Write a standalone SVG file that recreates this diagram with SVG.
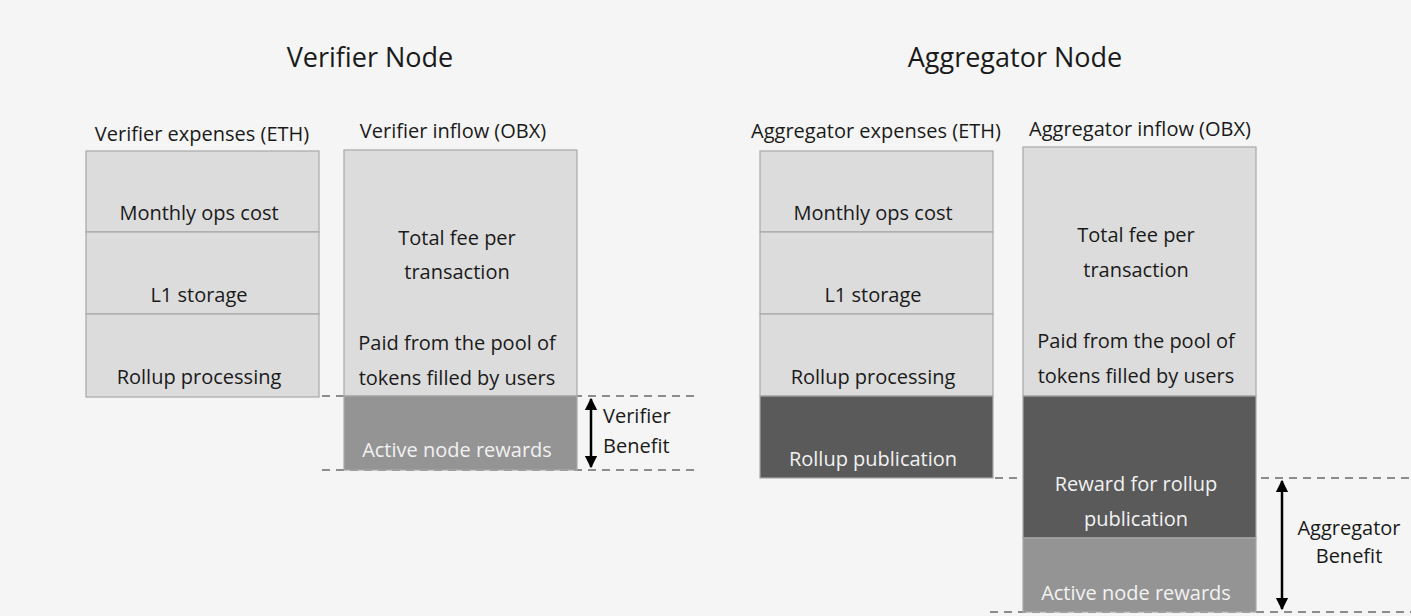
<svg xmlns="http://www.w3.org/2000/svg" width="1411" height="616" viewBox="0 0 1411 616">
<defs>
<marker id="ah" viewBox="0 0 10 10" refX="9" refY="5" markerWidth="5" markerHeight="5.5" orient="auto-start-reverse"><path d="M0,0 L10,5 L0,10 z" fill="#000"/></marker>
<style>
text{font-family:"Open Sans","Liberation Sans",sans-serif;text-anchor:middle;fill:#1a1a1a}
.title{font-size:27px}
.hdr{font-size:20px}
.lbl{font-size:20px}
.w{fill:#f2f2f2}
.light{fill:#dcdcdc;stroke:#a8a8a8;stroke-width:1.2}
.mid{fill:#949494;stroke:#a8a8a8;stroke-width:1.2}
.dark{fill:#5a5a5a;stroke:#a8a8a8;stroke-width:1.2}
.dash{stroke:#8c8c8c;stroke-width:2;stroke-dasharray:8,6;fill:none}
.arr{stroke:#000;stroke-width:2.5;fill:none}
</style>
</defs>
<rect width="1411" height="616" fill="#f5f5f5"/>
<text class="title" x="370" y="67">Verifier Node</text>
<text class="title" x="1015" y="67">Aggregator Node</text>

<g id="connectors">
<line class="dash" x1="322" y1="396" x2="695" y2="396"/>
<line class="dash" x1="322" y1="470" x2="695" y2="470"/>
<line class="arr" x1="591" y1="399" x2="591" y2="467" marker-start="url(#ah)" marker-end="url(#ah)"/>
<line class="dash" x1="995" y1="478" x2="1411" y2="478"/>
<line class="dash" x1="990" y1="612" x2="1411" y2="612"/>
<line class="arr" x1="1282" y1="481" x2="1282" y2="609" marker-start="url(#ah)" marker-end="url(#ah)"/>
</g>

<g id="verifier-expenses">
<text class="hdr" x="202" y="141">Verifier expenses (ETH)</text>
<rect class="light" x="86" y="151" width="233" height="81"/>
<rect class="light" x="86" y="232" width="233" height="82"/>
<rect class="light" x="86" y="314" width="233" height="83"/>
<text class="lbl" x="199" y="220">Monthly ops cost</text>
<text class="lbl" x="199" y="302">L1 storage</text>
<text class="lbl" x="199" y="384">Rollup processing</text>
</g>

<g id="verifier-inflow">
<text class="hdr" x="453" y="138">Verifier inflow (OBX)</text>
<rect class="light" x="344" y="150" width="233" height="246"/>
<rect class="mid" x="344" y="396" width="233" height="74"/>
<text class="lbl" x="457" y="245">Total fee per</text>
<text class="lbl" x="457" y="279">transaction</text>
<text class="lbl" x="457" y="350">Paid from the pool of</text>
<text class="lbl" x="457" y="385">tokens filled by users</text>
<text class="lbl w" x="457" y="457">Active node rewards</text>
</g>

<g id="verifier-benefit">
<text class="lbl" x="603" y="423" style="text-anchor:start">Verifier</text>
<text class="lbl" x="603" y="453" style="text-anchor:start">Benefit</text>
</g>

<g id="aggregator-expenses">
<text class="hdr" x="876" y="138">Aggregator expenses (ETH)</text>
<rect class="light" x="760" y="151" width="233" height="81"/>
<rect class="light" x="760" y="232" width="233" height="82"/>
<rect class="light" x="760" y="314" width="233" height="82"/>
<rect class="dark" x="760" y="396" width="233" height="82"/>
<text class="lbl" x="873" y="220">Monthly ops cost</text>
<text class="lbl" x="873" y="302">L1 storage</text>
<text class="lbl" x="873" y="384">Rollup processing</text>
<text class="lbl w" x="873" y="466">Rollup publication</text>
</g>

<g id="aggregator-inflow">
<text class="hdr" x="1140" y="136">Aggregator inflow (OBX)</text>
<rect class="light" x="1023" y="147" width="233" height="249"/>
<rect class="dark" x="1023" y="396" width="233" height="142"/>
<rect class="mid" x="1023" y="538" width="233" height="74"/>
<text class="lbl" x="1136" y="242">Total fee per</text>
<text class="lbl" x="1136" y="277">transaction</text>
<text class="lbl" x="1136" y="348">Paid from the pool of</text>
<text class="lbl" x="1136" y="383">tokens filled by users</text>
<text class="lbl w" x="1136" y="491">Reward for rollup</text>
<text class="lbl w" x="1136" y="526">publication</text>
<text class="lbl w" x="1136" y="600">Active node rewards</text>
</g>

<g id="aggregator-benefit">
<text class="lbl" x="1349" y="535">Aggregator</text>
<text class="lbl" x="1349" y="563">Benefit</text>
</g>
</svg>
